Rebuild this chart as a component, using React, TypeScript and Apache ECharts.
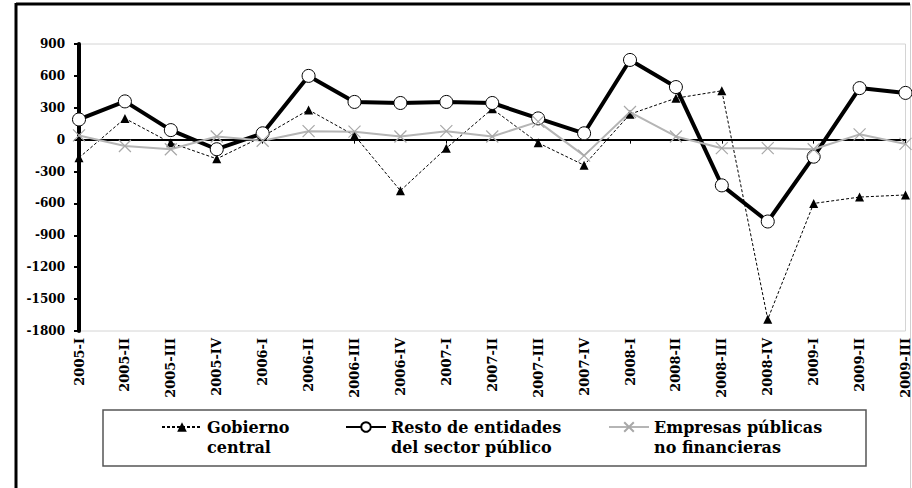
import React, { useEffect, useRef } from 'react';
import * as echarts from 'echarts';

const categories = [
  '2005-I', '2005-II', '2005-III', '2005-IV',
  '2006-I', '2006-II', '2006-III', '2006-IV',
  '2007-I', '2007-II', '2007-III', '2007-IV',
  '2008-I', '2008-II', '2008-III', '2008-IV',
  '2009-I', '2009-II', '2009-III',
];

const gobiernoCentral = [-170, 200, -30, -180, 30, 280, 40, -480, -80, 290, -30, -240, 240, 390, 460, -1690, -600, -540, -520];
const restoEntidades = [190, 360, 90, -90, 60, 600, 355, 345, 355, 345, 200, 60, 750, 495, -430, -770, -160, 485, 440];
const empresasPublicas = [40, -60, -90, 30, -10, 80, 75, 30, 80, 30, 170, -150, 260, 30, -80, -80, -90, 50, -40];

const seriesNames = [
  'Gobierno central',
  'Resto de entidades del sector público',
  'Empresas públicas no financieras',
];
const legendLabels = [
  'Gobierno\ncentral',
  'Resto de entidades\ndel sector público',
  'Empresas públicas\nno financieras',
];

const yMin = -1800;
const yMax = 900;
const yInterval = 300;

const FONT = 'DejaVu Serif';
const X_SYMBOL = 'path://M0,0L10,10M10,0L0,10';

export default function App() {
  const ref = useRef<HTMLDivElement>(null);

  useEffect(() => {
    if (!ref.current) return;
    const chart = echarts.init(ref.current, null, { renderer: 'svg' });

    const legendLefts = [161, 345, 608];
    const legendTextStyle = {
      fontFamily: FONT,
      fontWeight: 'bold',
      fontSize: 16,
      lineHeight: 20,
      color: '#000',
    };

    const option = {
      animation: false,
      backgroundColor: '#fff',
      grid: {
        left: 79,
        right: 4,
        top: 44,
        bottom: 157,
        show: true,
        borderColor: '#d4d4d4',
        borderWidth: 1,
        backgroundColor: 'transparent',
      },
      legend: seriesNames.map((n, i) => ({
        data: [n],
        left: legendLefts[i],
        top: 397,
        itemWidth: 40,
        itemHeight: 12,
        padding: 0,
        textStyle: legendTextStyle,
        formatter: (name: string) => '\n' + legendLabels[seriesNames.indexOf(name)],
        selectedMode: false,
      })),
      xAxis: [
        {
          type: 'category',
          data: categories,
          boundaryGap: false,
          position: 'bottom',
          axisLine: { show: false, onZero: false },
          axisTick: { show: false },
          splitLine: { show: false },
          axisLabel: {
            rotate: 90,
            interval: 0,
            margin: 7,
            fontFamily: FONT,
            fontWeight: 'bold',
            fontSize: 13,
            color: '#000',
          },
        },
        {
          type: 'category',
          data: categories,
          boundaryGap: false,
          position: 'top',
          axisLine: { show: true, onZero: true, lineStyle: { color: '#000', width: 2 } },
          axisTick: { show: true, inside: true, length: 4, lineStyle: { color: '#000', width: 1 } },
          axisLabel: { show: false },
          splitLine: { show: false },
        },
      ],
      yAxis: {
        type: 'value',
        min: yMin,
        max: yMax,
        interval: yInterval,
        axisLine: { show: true, onZero: false, lineStyle: { color: '#000', width: 4 } },
        axisTick: { show: true, length: 5, lineStyle: { color: '#000', width: 2 } },
        splitLine: { show: false },
        axisLabel: {
          margin: 14,
          fontFamily: FONT,
          fontWeight: 'bold',
          fontSize: 12,
          color: '#000',
          formatter: (v: number) => String(v),
        },
      },
      series: [
        {
          name: seriesNames[0],
          type: 'line',
          data: gobiernoCentral,
          xAxisIndex: 0,
          symbol: 'triangle',
          symbolSize: 9,
          showAllSymbol: true,
          lineStyle: { color: '#000', width: 1, type: [3, 2] },
          itemStyle: { color: '#000' },
        },
        {
          name: seriesNames[1],
          type: 'line',
          data: restoEntidades,
          xAxisIndex: 0,
          symbol: 'circle',
          symbolSize: 13,
          showAllSymbol: true,
          lineStyle: { color: '#000', width: 4 },
          itemStyle: { color: '#fff', borderColor: '#000', borderWidth: 1 },
        },
        {
          name: seriesNames[2],
          type: 'line',
          data: empresasPublicas,
          xAxisIndex: 0,
          symbol: X_SYMBOL,
          symbolSize: 12,
          showAllSymbol: true,
          lineStyle: { color: '#b5b5b5', width: 2 },
          itemStyle: { color: '#a8a8a8', borderColor: '#a8a8a8', borderWidth: 1.2 },
        },
      ],
      graphic: [
        {
          type: 'line',
          shape: { x1: 16, y1: 4, x2: 910, y2: 4 },
          style: { stroke: '#000', lineWidth: 3 },
          silent: true,
        },
        {
          type: 'line',
          shape: { x1: 16, y1: 3, x2: 16, y2: 488 },
          style: { stroke: '#000', lineWidth: 3 },
          silent: true,
        },
        {
          type: 'line',
          shape: { x1: 910.5, y1: 4, x2: 910.5, y2: 488 },
          style: { stroke: '#cfcfcf', lineWidth: 1 },
          silent: true,
        },
        {
          type: 'rect',
          shape: { x: 103, y: 410, width: 763, height: 56 },
          style: { fill: 'none', stroke: '#555', lineWidth: 1.5 },
          silent: true,
        },
      ],
    };

    chart.setOption(option as any);
    return () => chart.dispose();
  }, []);

  return (
    <div
      ref={ref}
      style={{ position: 'absolute', left: 0, top: 0, width: 912, height: 488, background: '#fff' }}
    />
  );
}
